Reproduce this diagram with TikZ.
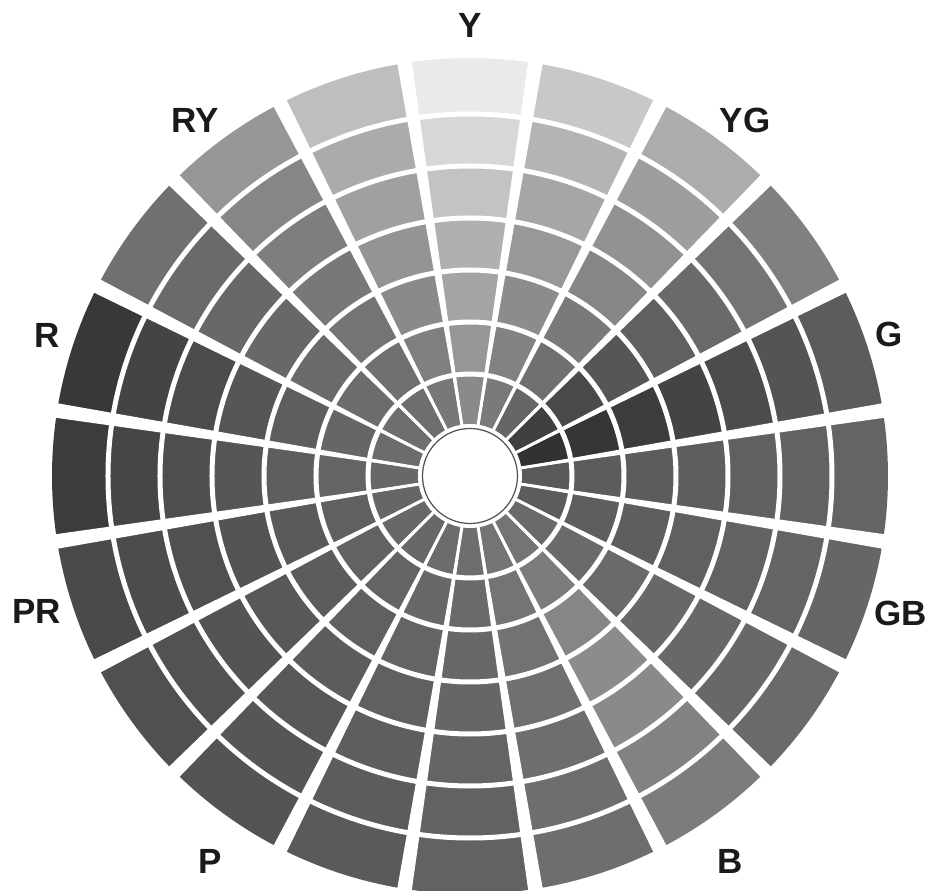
\documentclass[tikz,border=0pt]{standalone}
\usepackage{fontspec}
\setmainfont{Liberation Sans}
\definecolor{wheelink}{HTML}{1A1A1A}
\definecolor{wheelhub}{HTML}{505050}

\begin{document}
\begin{tikzpicture}[
  x=1pt, y=1pt,
  huelbl/.style={font=\fontsize{35}{40}\selectfont\bfseries, text=wheelink, inner sep=0pt},
  ringsep/.style={draw=white, line width=5pt},
  spoke/.style={draw=white, line width=3pt},
]
\useasboundingbox (-470,-415) rectangle (457,476);

% ---------------- cells: sector k, rings outer -> inner -------------
\foreach \k/\vals in {
   0/{234,215,195,176,164,150,138},  1/{200,180,166,152,140,130,122},
   2/{172,158,146,134,122,112,102},  3/{128,116,106,96,86,74,64},
   4/{92,84,76,68,60,54,50},         5/{100,98,96,94,92,92,90},
   6/{102,100,98,96,94,94,92},       7/{106,104,104,104,106,106,106},
   8/{124,130,138,140,134,124,116},  9/{110,110,110,112,114,116,116},
  10/{98,98,100,102,104,106,110},   11/{90,92,94,96,100,104,108},
  12/{84,86,88,92,96,100,104},      13/{80,82,84,88,92,98,104},
  14/{74,76,80,84,90,96,102},       15/{60,70,78,86,94,100,104},
  16/{56,68,76,86,94,102,108},      17/{112,106,104,104,106,108,110},
  18/{150,134,126,120,116,112,110}, 19/{190,171,160,148,138,128,120}}{
  \foreach \g [count=\j] in \vals {
    \pgfmathsetmacro{\rr}{\j==1 ? 418 : 50+52*(8-\j)}
    \pgfmathsetmacro{\aa}{90-18*\k-9}
    \definecolor{cellc}{RGB}{\g,\g,\g}
    \fill[cellc] (0,0) -- (\aa:\rr)
      arc[start angle=\aa, end angle=\aa+18, radius=\rr] -- cycle;
  }
}

% ---------------- white rings and spokes ----------------------------
\foreach \r in {102,154,206,258,310,362}
  \draw[ringsep] (0,0) circle[radius=\r];

\foreach \b in {9,27,...,351} {
  \fill[white] (0,0) -- ({\b-1}:440) -- ({\b+1}:440) -- cycle;
  \draw[spoke] (0,0) -- (\b:440);
}

% ---------------- hub -----------------------------------------------
\fill[white] (0,0) circle[radius=52];
\node[circle, draw=wheelhub, line width=1.2pt, minimum size=95pt, inner sep=0pt] (hub) at (0,0) {};

% ---------------- hue labels ----------------------------------------
\foreach \n/\a/\r in {Y/90/451, YG/52.3/450, G/18.7/442, GB/-17.7/452,
                      B/-56/465, P/236/465, PR/197.4/454, R/161.6/446, RY/127.7/450}
  \node[huelbl] (lbl\n) at (\a:\r) {\n};

\end{tikzpicture}
\end{document}
